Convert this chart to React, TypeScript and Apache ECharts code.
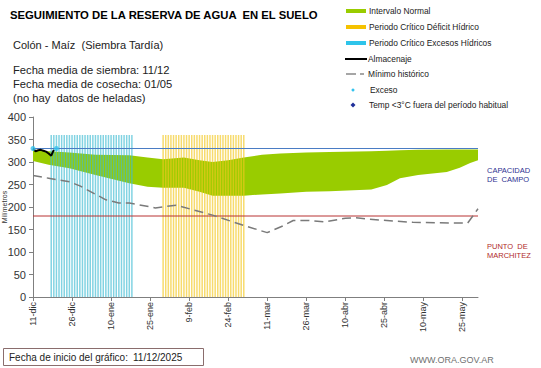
import React, { useEffect, useRef } from 'react';
import * as echarts from 'echarts';

// X axis: days since start date (11/12/2025)
const xTickDays = [0, 15, 30, 45, 60, 75, 90, 105, 120, 135, 150, 165];
const xTickLabels = ['11-dic', '26-dic', '10-ene', '25-ene', '9-feb', '24-feb', '11-mar', '26-mar', '10-abr', '25-abr', '10-may', '25-may'];
const lastDay = 171;
const yTicks = [0, 50, 100, 150, 200, 250, 300, 350, 400];

// Intervalo normal (band)
const bandDays = [0, 6, 14, 24, 37, 44, 50, 58, 64, 69, 75, 81, 88, 95, 105, 114, 130, 136, 141, 148, 159, 164, 168, 171];
const bandUpper = [327, 324, 321, 316, 315, 310, 306, 310, 304, 300, 304, 310, 316, 319, 321, 322, 324, 325, 326, 327, 328, 328, 328, 328];
const bandLower = [302, 294, 286, 271, 253, 245, 243, 243, 234, 225, 225, 225, 228, 230, 234, 235, 239, 249, 264, 271, 278, 287, 298, 304];

// Mínimo histórico
const minDays = [0, 6, 14, 18, 28, 33, 37, 47, 55, 69, 81, 90, 96, 100, 106, 112, 120, 124, 133, 146, 167, 171];
const minValues = [270, 264, 256, 247, 216, 209, 209, 198, 204, 182, 159, 143, 158, 170, 170, 167, 175, 176, 171, 166, 164, 196];

// Almacenaje
const storageDays = [0, 1, 2, 3, 4, 5, 6, 7, 8];
const storageValues = [330, 324, 326, 327, 325, 323, 319, 314, 327];

// Exceso
const excessDays = [0, 9];
const excessValues = [330, 330];

// Critical periods [first day, last day] and stripe height
const excessPeriod = [7, 38];
const deficitPeriod = [50, 81];
const periodTop = 360;

const fieldCapacity = 330;
const wiltingPoint = 180;

const FONT = 'Liberation Sans, Arial, sans-serif';

function periodBars(p: number[]) {
  const out: number[][] = [];
  for (let d = p[0]; d <= p[1]; d++) out.push([d, periodTop]);
  return out;
}

export default function App() {
  const ref = useRef<HTMLDivElement>(null);
  useEffect(() => {
    if (!ref.current) return;
    const chart = echarts.init(ref.current, null, { renderer: 'svg' });
    const bandData = bandDays.map((d, i) => [d, bandLower[i], bandUpper[i]]);
    const stripeData = periodBars(excessPeriod).concat(periodBars(deficitPeriod));

    const legendText = (x: number, y: number, text: string) => ({
      type: 'text', x, y,
      style: { text, fontSize: 8.4, fontFamily: FONT, fill: '#222', verticalAlign: 'middle' },
    });

    chart.setOption({
      animation: false,
      backgroundColor: '#fff',
      grid: { left: 33, right: 63, top: 117, bottom: 71, containLabel: false, outerBoundsMode: 'none' },
      xAxis: {
        type: 'value', min: 0, max: lastDay,
        axisLine: { show: true, lineStyle: { color: '#7f7f7f', width: 1 } },
        axisTick: { show: true, length: 4, customValues: xTickDays, lineStyle: { color: '#7f7f7f' } },
        axisLabel: {
          customValues: xTickDays, rotate: 90, fontSize: 9, fontFamily: FONT, color: '#333', margin: 5,
          formatter: (v: number) => { const i = xTickDays.indexOf(v); return i >= 0 ? xTickLabels[i] : ''; },
        },
        splitLine: { show: false },
      },
      yAxis: {
        type: 'value', min: 0, max: 400, interval: 50,
        name: 'Milímetros', nameLocation: 'middle', nameGap: 25, nameRotate: 90, nameMoveOverlap: false,
        nameTextStyle: { fontSize: 7, fontFamily: FONT, color: '#333' },
        axisLine: { show: true, lineStyle: { color: '#7f7f7f', width: 1 } },
        axisTick: { show: true, length: 4, lineStyle: { color: '#7f7f7f' } },
        axisLabel: { fontSize: 11, fontFamily: FONT, color: '#333', margin: 7,
          formatter: (v: number) => (yTicks.includes(v) ? String(v) : '') },
        splitLine: { show: false },
      },
      series: [
        {
          type: 'custom', name: 'Intervalo Normal', data: bandData, z: 1,
          encode: { x: 0, y: [1, 2] },
          renderItem: (params: any, api: any) => {
            if (params.dataIndex !== 0) return null;
            const up = bandData.map((r) => api.coord([r[0], r[2]]));
            const lo = bandData.map((r) => api.coord([r[0], r[1]])).reverse();
            return { type: 'polygon', shape: { points: up.concat(lo) }, style: { fill: '#99cc00' } };
          },
        },
        {
          type: 'bar', name: 'Periodos Críticos', data: stripeData,
          barWidth: 1.5,
          itemStyle: {
            opacity: 0.65,
            color: (p: any) => (p.value[0] <= excessPeriod[1] ? '#3fbcd2' : '#f2c81e'),
          },
          z: 3,
        },
        {
          type: 'line', name: 'Capacidad', data: [[0, fieldCapacity], [lastDay, fieldCapacity]], symbol: 'none',
          lineStyle: { color: '#4a7cc4', width: 1 }, z: 4,
        },
        {
          type: 'line', name: 'Marchitez', data: [[0, wiltingPoint], [lastDay, wiltingPoint]], symbol: 'none',
          lineStyle: { color: '#b83232', width: 1 }, z: 4,
        },
        {
          type: 'line', name: 'Mínimo histórico', data: minDays.map((d, i) => [d, minValues[i]]), symbol: 'none',
          lineStyle: { color: '#7a7a7a', width: 1.5, type: [9, 5] }, z: 5,
        },
        {
          type: 'line', name: 'Almacenaje', data: storageDays.map((d, i) => [d, storageValues[i]]), symbol: 'none',
          lineStyle: { color: '#000', width: 2 }, z: 6,
        },
        {
          type: 'scatter', name: 'Exceso', data: excessDays.map((d, i) => [d, excessValues[i]]),
          symbol: 'circle', symbolSize: 5, itemStyle: { color: '#33c3ee' }, z: 7,
        },
      ],
      graphic: [
        { type: 'text', x: 10, y: 15, style: { text: 'SEGUIMIENTO DE LA RESERVA DE AGUA  EN EL SUELO', fontSize: 11.3, fontWeight: 'bold', fontFamily: FONT, fill: '#000', verticalAlign: 'middle' } },
        { type: 'text', x: 13, y: 45, style: { text: 'Colón - Maíz  (Siembra Tardía)', fontSize: 11, fontFamily: FONT, fill: '#222', verticalAlign: 'middle' } },
        { type: 'text', x: 13, y: 70, style: { text: 'Fecha media de siembra: 11/12', fontSize: 11.2, fontFamily: FONT, fill: '#222', verticalAlign: 'middle' } },
        { type: 'text', x: 13, y: 84, style: { text: 'Fecha media de cosecha: 01/05', fontSize: 11.2, fontFamily: FONT, fill: '#222', verticalAlign: 'middle' } },
        { type: 'text', x: 13, y: 98, style: { text: '(no hay  datos de heladas)', fontSize: 11.2, fontFamily: FONT, fill: '#222', verticalAlign: 'middle' } },

        { type: 'rect', shape: { x: 346, y: 9, width: 20, height: 4 }, style: { fill: '#99cc00' } },
        legendText(369, 11, 'Intervalo Normal'),
        { type: 'rect', shape: { x: 346, y: 25, width: 20, height: 4 }, style: { fill: '#f5c200' } },
        legendText(369, 27, 'Periodo Crítico Déficit Hídrico'),
        { type: 'rect', shape: { x: 346, y: 41, width: 20, height: 4 }, style: { fill: '#2ec4ea' } },
        legendText(369, 43, 'Periodo Crítico Excesos Hídricos'),
        { type: 'line', shape: { x1: 345, y1: 59, x2: 367, y2: 59 }, style: { stroke: '#000', lineWidth: 2 } },
        legendText(368, 59, 'Almacenaje'),
        { type: 'line', shape: { x1: 346, y1: 74, x2: 356, y2: 74 }, style: { stroke: '#888', lineWidth: 1.5 } },
        { type: 'line', shape: { x1: 360, y1: 74, x2: 364, y2: 74 }, style: { stroke: '#888', lineWidth: 1.5 } },
        legendText(368, 74, 'Mínimo histórico'),
        { type: 'circle', shape: { cx: 353, cy: 90, r: 1.5 }, style: { fill: '#33c3ee' } },
        legendText(370, 90, 'Exceso'),
        { type: 'polygon', shape: { points: [[353, 102.5], [355.5, 105], [353, 107.5], [350.5, 105]] }, style: { fill: '#1f2f9a' } },
        legendText(369, 105, 'Temp <3°C fuera del período habitual'),

        { type: 'text', x: 487, y: 170, style: { text: 'CAPACIDAD', fontSize: 7.5, fontFamily: FONT, fill: '#2e3192', verticalAlign: 'middle' } },
        { type: 'text', x: 487, y: 179, style: { text: 'DE  CAMPO', fontSize: 7.5, fontFamily: FONT, fill: '#2e3192', verticalAlign: 'middle' } },
        { type: 'text', x: 487, y: 246, style: { text: 'PUNTO  DE', fontSize: 7.5, fontFamily: FONT, fill: '#b02a2a', verticalAlign: 'middle' } },
        { type: 'text', x: 487, y: 255, style: { text: 'MARCHITEZ', fontSize: 7.5, fontFamily: FONT, fill: '#b02a2a', verticalAlign: 'middle' } },

        { type: 'rect', shape: { x: 3.5, y: 348.5, width: 200, height: 17 }, style: { fill: '#fff', stroke: '#8a6d6d', lineWidth: 1 } },
        { type: 'text', x: 9, y: 357.5, style: { text: 'Fecha de inicio del gráfico:', fontSize: 10, fontFamily: FONT, fill: '#222', verticalAlign: 'middle' } },
        { type: 'text', x: 133, y: 357.5, style: { text: '11/12/2025', fontSize: 10, fontFamily: FONT, fill: '#222', verticalAlign: 'middle' } },
        { type: 'text', x: 410, y: 360, style: { text: 'WWW.ORA.GOV.AR', fontSize: 9, fontFamily: FONT, fill: '#707070', verticalAlign: 'middle' } },
      ],
    });
    return () => chart.dispose();
  }, []);
  return <div ref={ref} style={{ position: 'absolute', left: 0, top: 0, width: 541, height: 368, background: '#fff' }} />;
}
